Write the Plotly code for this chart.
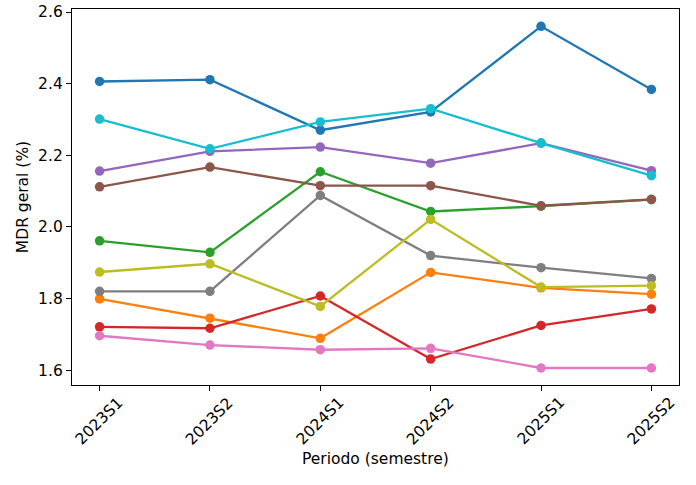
import plotly.graph_objects as go

# Semesters on the x axis
periodos = ["2023S1", "2023S2", "2024S1", "2024S2", "2025S1", "2025S2"]

# MDR values (%) per series
serie_azul = [2.406, 2.411, 2.270, 2.321, 2.560, 2.384]
serie_laranja = [1.799, 1.745, 1.689, 1.873, 1.830, 1.812]
serie_verde = [1.961, 1.929, 2.154, 2.043, 2.058, 2.076]
serie_vermelha = [1.721, 1.717, 1.807, 1.631, 1.725, 1.771]
serie_roxa = [2.156, 2.211, 2.223, 2.178, 2.234, 2.157]
serie_marrom = [2.112, 2.167, 2.115, 2.115, 2.059, 2.077]
serie_rosa = [1.696, 1.670, 1.657, 1.661, 1.606, 1.606]
serie_cinza = [1.820, 1.820, 2.088, 1.920, 1.886, 1.856]
serie_oliva = [1.874, 1.897, 1.778, 2.021, 1.832, 1.836]
serie_ciano = [2.301, 2.218, 2.293, 2.330, 2.234, 2.143]

series = [serie_azul, serie_laranja, serie_verde, serie_vermelha, serie_roxa,
          serie_marrom, serie_rosa, serie_cinza, serie_oliva, serie_ciano]

# matplotlib tab10 colours
cores = ["#1f77b4", "#ff7f0e", "#2ca02c", "#d62728", "#9467bd",
         "#8c564b", "#e377c2", "#7f7f7f", "#bcbd22", "#17becf"]

FONT = "DejaVu Sans"
FS = 15.5

fig = go.Figure()

# One line with markers per series
for valores, cor in zip(series, cores):
    fig.add_trace(go.Scatter(
        x = periodos,
        y = valores,
        mode = "lines+markers",
        line = {'color': cor, 'width': 2.3},
        marker = {'color': cor, 'size': 9.5},
        showlegend = False))

# Rotated tick labels centred under each tick, like matplotlib rotation=45
for p in periodos:
    fig.add_annotation(
        x = p, y = -0.097, xref = "x", yref = "paper",
        text = p, textangle = -45, showarrow = False,
        xanchor = "center", yanchor = "middle",
        font = {'family': FONT, 'size': FS, 'color': "black"})

fig.add_annotation(
    x = 0.5, y = -0.197, xref = "paper", yref = "paper",
    text = "Periodo (semestre)", showarrow = False,
    xanchor = "center", yanchor = "middle",
    font = {'family': FONT, 'size': FS, 'color': "black"})

fig.update_layout(
    width = 696,
    height = 485,
    margin = {'l': 72, 'r': 17, 't': 4, 'b': 100},
    paper_bgcolor = "white",
    plot_bgcolor = "white",
    font = {'family': FONT, 'size': FS, 'color': "black"},
    xaxis = {
        'type': 'category',
        'range': [-0.25, 5.25],
        'showticklabels': False,
        'ticks': 'outside',
        'ticklen': 5,
        'tickwidth': 1.3,
        'tickcolor': 'black',
        'showgrid': False,
        'zeroline': False,
        'showline': True,
        'linecolor': 'black',
        'linewidth': 1.3,
        'mirror': True},
    yaxis = {
        'range': [1.5585, 2.6085],
        'tickvals': [1.6, 1.8, 2.0, 2.2, 2.4, 2.6],
        'ticktext': ["1.6", "1.8", "2.0", "2.2", "2.4", "2.6"],
        'ticklabeloverflow': 'allow',
        'ticks': 'outside',
        'ticklen': 5,
        'tickwidth': 1.3,
        'tickcolor': 'black',
        'showgrid': False,
        'zeroline': False,
        'showline': True,
        'linecolor': 'black',
        'linewidth': 1.3,
        'mirror': True,
        'title': {'text': "MDR geral (%)", 'standoff': 5,
                  'font': {'family': FONT, 'size': FS}}})

# drop the browser's default body margin so the figure sits at the page corner
fig.write_html("out.html", config={'displayModeBar': False},
               post_script="document.body.style.margin = '0';")
